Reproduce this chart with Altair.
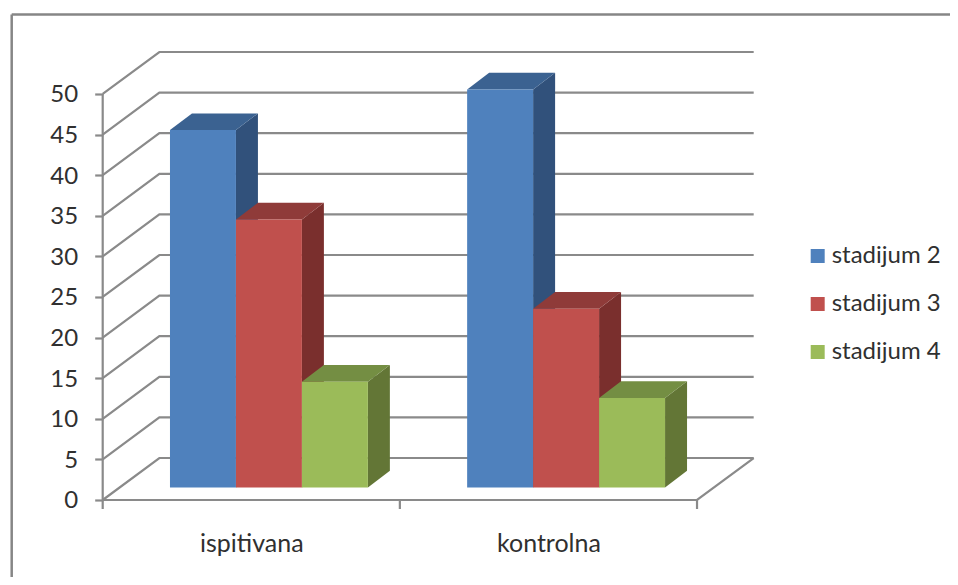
import altair as alt
import pandas as pd

categories = ["ispitivana", "kontrolna"]
series = ["stadijum 2", "stadijum 3", "stadijum 4"]
values = {"stadijum 2": [44, 49], "stadijum 3": [33, 22], "stadijum 4": [13, 11]}
front_colors = ["#4F81BD", "#C0504D", "#9BBB59"]
side_colors = ["#31517B", "#7A2F2D", "#637636"]
top_colors = ["#3B6291", "#8F3B39", "#748E43"]
levels = list(range(0, 55, 5))

W, H = 651, 448
DX, DY = 0.1907, 5.17            # wall depth in axis units
BASE_X, BASE_Y = 0.2264, 1.55    # bars' front-corner offset from the axis origin
BW = 0.222                       # bar width in category units
BDX, BDY = 0.074, 2.06           # bar depth
GRID = "#8A8A8A"
TEXT = "#303030"
FONT = "Lato"
FS = 24

xs = alt.Scale(domain=[0, 2 + DX], nice=False, zero=False)
ys = alt.Scale(domain=[0, 50 + DY], nice=False, zero=False)
X = lambda f="x": alt.X(f"{f}:Q", scale=xs, title=None)
Y = lambda f="y": alt.Y(f"{f}:Q", scale=ys, title=None)

# walls and floor
rows = []
for k in levels:
    pts = [(0, k), (DX, k + DY), (2 + DX, k + DY)]
    for o, (a, b) in enumerate(pts):
        rows.append({"line": f"l{k}", "o": o, "x": a, "y": b})
for o, (a, b) in enumerate([(0, 0), (2, 0), (2 + DX, DY)]):
    rows.append({"line": "floor", "o": o, "x": a, "y": b})
for o, (a, b) in enumerate([(0, 0), (0, 50)]):
    rows.append({"line": "axis", "o": o, "x": a, "y": b})
walls = alt.Chart(pd.DataFrame(rows)).mark_line(color=GRID, strokeWidth=2.2).encode(
    x=alt.X("x:Q", scale=xs, title=None, axis=alt.Axis(
        values=[0.5, 1.5], ticks=False, domain=False, grid=False,
        labelExpr="datum.value < 1 ? 'ispitivana' : 'kontrolna'",
        labelFont=FONT, labelFontSize=25, labelColor=TEXT, labelPadding=32)),
    y=alt.Y("y:Q", scale=ys, title=None, axis=alt.Axis(
        values=levels, domain=False, grid=False, tickSize=8, tickWidth=2.2,
        tickColor=GRID, labelFont=FONT, labelFontSize=FS, labelColor=TEXT,
        labelPadding=17, labelOffset=1)),
    detail="line:N", order="o:Q",
)

xticks = alt.Chart(pd.DataFrame({"x": [0, 1, 2]})).mark_rule(color=GRID, strokeWidth=2.2).encode(
    x=X(), y=alt.value(H), y2=alt.value(H + 9))

frame = alt.Chart(pd.DataFrame({"a": [0]}))
frame_top = frame.mark_rule(color="#868686", strokeWidth=2.5).encode(
    x=alt.value(-91), x2=alt.value(860), y=alt.value(-37.5))
frame_left = frame.mark_rule(color="#868686", strokeWidth=2.5).encode(
    x=alt.value(-91), y=alt.value(-37.5), y2=alt.value(540))

layers = [walls, frame_top, frame_left, xticks]
for si, s in enumerate(series):
    side, top, front = [], [], []
    for ci, c in enumerate(categories):
        v = values[s][ci]
        x0 = ci + BASE_X + si * BW
        x1 = x0 + BW
        t = BASE_Y + v
        bar = f"{c}-{s}"
        side += [
            {"bar": bar, "x": x1, "y": BASE_Y, "y2": t},
            {"bar": bar, "x": x1 + BDX, "y": BASE_Y + BDY, "y2": t + BDY},
        ]
        top += [
            {"bar": bar, "x": x0, "y": t, "y2": t},
            {"bar": bar, "x": x0 + BDX, "y": t, "y2": t + BDY},
            {"bar": bar, "x": x1, "y": t, "y2": t + BDY},
            {"bar": bar, "x": x1 + BDX, "y": t + BDY, "y2": t + BDY},
        ]
        front.append({"cat": c, "series": s, "x": x0, "x2": x1, "y": BASE_Y, "y2": t})
    layers.append(alt.Chart(pd.DataFrame(side)).mark_area(color=side_colors[si]).encode(
        x=X(), y=Y(), y2="y2:Q", detail="bar:N"))
    layers.append(alt.Chart(pd.DataFrame(top)).mark_area(color=top_colors[si]).encode(
        x=X(), y=Y(), y2="y2:Q", detail="bar:N"))
    layers.append(alt.Chart(pd.DataFrame(front)).mark_rect().encode(
        x=X(), x2="x2:Q", y=Y(), y2="y2:Q",
        color=alt.Color("series:N",
                        scale=alt.Scale(domain=series, range=front_colors),
                        legend=alt.Legend(
                            title=None, orient="none", legendX=703, legendY=192,
                            symbolType="square", symbolSize=196, symbolStrokeWidth=0,
                            symbolOpacity=1, labelFont=FONT, labelFontSize=FS,
                            labelColor=TEXT, rowPadding=24, labelOffset=2, padding=0))))

chart = alt.layer(*layers).properties(
    width=W, height=H,
    padding={"left": 94.7, "top": 44, "right": 196, "bottom": 77},
    autosize=alt.AutoSizeParams(type="none"),
    background="white",
).configure_view(stroke=None)

chart.save("out.html", embed_options={"renderer": "svg", "actions": False})
